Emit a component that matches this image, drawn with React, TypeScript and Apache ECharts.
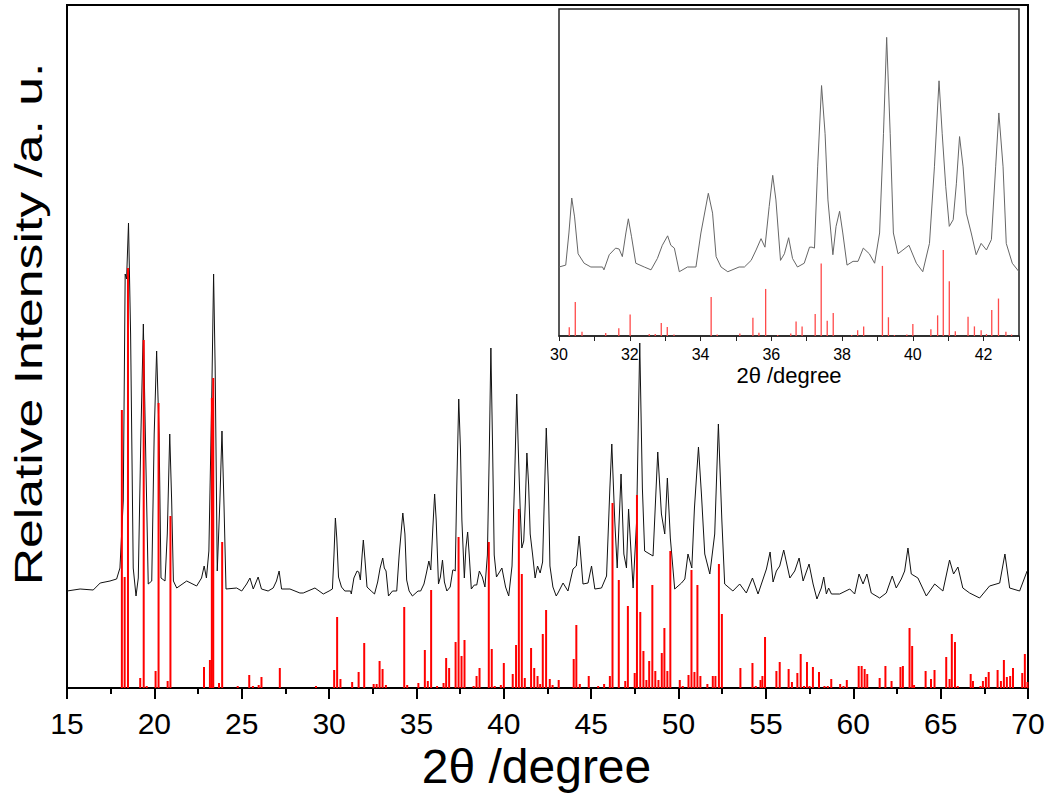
import React, { useEffect, useRef } from "react";
import * as echarts from "echarts";

// Measured XRD pattern: [2θ (degree), relative intensity]
const measuredPattern: [number, number][] = [
  [15.0, 97], [15.75, 99], [16.5, 98], [16.9, 105], [17.46, 107], [17.84, 109], [18.03, 120],
  [18.22, 187], [18.33, 414], [18.41, 409], [18.52, 465], [18.64, 354], [18.79, 120], [18.95, 92],
  [19.08, 110], [19.23, 254], [19.37, 364], [19.52, 220], [19.65, 104], [19.85, 107], [19.99, 254],
  [20.13, 337], [20.27, 254], [20.38, 110], [20.61, 107], [20.74, 154], [20.88, 254], [20.99, 187],
  [21.09, 107], [21.28, 100], [21.85, 107], [22.42, 102], [22.7, 110], [22.85, 122], [22.98, 110],
  [23.12, 137], [23.28, 287], [23.39, 414], [23.48, 320], [23.6, 117], [23.75, 187], [23.87, 257],
  [23.98, 187], [24.1, 99], [24.71, 100], [25.0, 97], [25.28, 104], [25.47, 110], [25.66, 99],
  [25.94, 111], [26.13, 99], [26.51, 97], [26.8, 100], [26.99, 107], [27.14, 117], [27.28, 99],
  [27.76, 99], [28.33, 95], [28.52, 95], [29.19, 100], [29.67, 94],
  [30.0, 97], [30.19, 99], [30.28, 133], [30.36, 170], [30.44, 150], [30.54, 111], [30.71, 101],
  [30.9, 97], [31.23, 97], [31.27, 94], [31.42, 110], [31.6, 117], [31.7, 116], [31.79, 108],
  [31.89, 133], [31.96, 148], [32.05, 129], [32.17, 101], [32.41, 97], [32.6, 94], [32.78, 106],
  [32.92, 120], [33.07, 130], [33.16, 120], [33.26, 117], [33.4, 92], [33.63, 97], [33.87, 97],
  [34.01, 133], [34.22, 175], [34.34, 154], [34.44, 108], [34.58, 97], [34.77, 92], [35.09, 97],
  [35.24, 97], [35.43, 104], [35.57, 115], [35.71, 127], [35.82, 118], [35.94, 161], [36.04, 194],
  [36.13, 168], [36.26, 104], [36.37, 111], [36.49, 128], [36.6, 106], [36.74, 97], [36.93, 101],
  [37.08, 118], [37.15, 118], [37.22, 117], [37.31, 203], [37.42, 289], [37.52, 238], [37.6, 168],
  [37.74, 110], [37.83, 140], [37.93, 156], [38.02, 133], [38.14, 99], [38.31, 103], [38.45, 103],
  [38.6, 117], [38.77, 111], [38.92, 101], [39.06, 133], [39.17, 238], [39.26, 340], [39.36, 238],
  [39.45, 133], [39.58, 111], [39.72, 115], [39.89, 120], [40.1, 101], [40.28, 92], [40.47, 122],
  [40.61, 203], [40.74, 294], [40.83, 238], [40.93, 182], [41.03, 140], [41.14, 147], [41.23, 185],
  [41.32, 235], [41.42, 203], [41.51, 154], [41.65, 133], [41.79, 110], [41.93, 122], [42.08, 115],
  [42.22, 126], [42.34, 203], [42.43, 260], [42.55, 203], [42.64, 122], [42.81, 101], [43.0, 92],
  [43.1, 95], [43.39, 105], [43.67, 97], [43.96, 119], [44.15, 122], [44.31, 152], [44.53, 104],
  [44.82, 105], [45.02, 122], [45.21, 99], [45.59, 100], [45.88, 112], [46.07, 200], [46.18, 244],
  [46.35, 167], [46.49, 120], [46.71, 214], [46.87, 134], [47.02, 120], [47.14, 179], [47.31, 127],
  [47.4, 100], [47.6, 167], [47.78, 345], [47.93, 200], [48.06, 137], [48.54, 132], [48.81, 236],
  [49.02, 174], [49.21, 154], [49.36, 210], [49.53, 150], [49.78, 99], [50.17, 105], [50.36, 109],
  [50.54, 134], [50.76, 120], [50.91, 180], [51.14, 241], [51.31, 194], [51.5, 134], [51.79, 114],
  [52.07, 154], [52.28, 264], [52.48, 167], [52.64, 104], [53.11, 97], [53.5, 104], [53.88, 95],
  [54.23, 110], [54.55, 94], [55.03, 119], [55.24, 136], [55.41, 106], [55.6, 117], [55.79, 122],
  [56.02, 138], [56.37, 110], [56.65, 117], [56.9, 130], [57.13, 107], [57.47, 124], [57.7, 104],
  [57.92, 89], [58.17, 100], [58.31, 111], [58.46, 94], [58.59, 100], [58.75, 94], [59.22, 94],
  [59.8, 99], [60.08, 94], [60.33, 114], [60.56, 104], [60.78, 114], [61.03, 95], [61.51, 90],
  [61.89, 95], [62.23, 112], [62.46, 100], [62.75, 109], [62.94, 117], [63.13, 140], [63.32, 114],
  [63.7, 110], [64.18, 92], [64.66, 104], [65.13, 97], [65.51, 128], [65.74, 114], [65.99, 121],
  [66.27, 100], [66.66, 95], [67.23, 90], [67.8, 102], [68.38, 105], [68.68, 134], [68.95, 100],
  [69.52, 97], [69.95, 117],
];

// Reference diffraction lines: [2θ (degree), relative intensity]
const referenceSticks: [number, number][] = [
  [18.14, 278], [18.3, 111], [18.49, 420], [19.19, 10], [19.39, 348], [19.56, 2], [20.07, 17],
  [20.24, 285], [20.76, 7], [20.92, 172], [22.84, 21], [23.18, 28], [23.29, 290], [23.37, 310],
  [23.7, 5], [23.88, 146], [24.77, 2], [25.43, 13], [25.64, 2], [25.97, 3], [26.13, 11], [27.18, 20],
  [29.25, 2], [30.29, 18], [30.46, 71], [30.65, 9], [31.32, 6], [31.69, 16], [32.01, 45], [32.55, 4],
  [32.72, 4], [32.89, 27], [33.06, 19], [33.25, 3], [34.3, 81], [34.47, 3], [35.11, 5], [35.48, 38],
  [35.65, 7], [35.84, 98], [36.18, 2], [36.55, 5], [36.7, 30], [36.87, 20], [37.24, 46], [37.41, 151],
  [37.58, 32], [37.75, 48], [38.27, 2], [38.44, 12], [38.61, 20], [39.14, 146], [39.31, 39], [39.48, 2],
  [39.83, 3], [40.0, 25], [40.51, 14], [40.7, 43], [40.86, 179], [41.03, 114], [41.2, 10], [41.56, 40],
  [41.74, 20], [41.93, 12], [42.08, 4], [42.23, 54], [42.42, 78], [42.63, 9], [42.79, 3], [43.14, 8],
  [44.0, 29], [44.15, 63], [44.35, 4], [44.86, 12], [45.4, 2], [45.74, 4], [46.07, 12], [46.22, 185],
  [46.58, 108], [46.95, 7], [47.1, 82], [47.49, 15], [47.62, 193], [47.81, 76], [47.99, 37], [48.16, 8],
  [48.32, 27], [48.5, 103], [48.67, 17], [48.85, 8], [49.04, 35], [49.19, 60], [49.36, 17], [49.53, 137],
  [50.07, 8], [50.24, 2], [50.57, 13], [50.74, 118], [50.91, 16], [51.08, 103], [51.25, 12], [51.65, 4],
  [51.96, 12], [52.11, 12], [52.31, 124], [52.48, 74], [53.54, 20], [54.23, 25], [54.42, 2], [54.69, 8],
  [54.8, 12], [54.95, 51], [55.6, 17], [55.79, 26], [56.3, 19], [56.49, 6], [56.8, 15], [56.99, 34],
  [57.18, 2], [57.35, 26], [57.5, 2], [57.69, 21], [58.04, 16], [58.35, 2], [58.54, 2], [58.74, 9],
  [59.25, 4], [59.44, 2], [59.63, 8], [60.31, 22], [60.48, 22], [60.65, 19], [60.8, 14], [61.51, 10],
  [61.84, 22], [62.19, 7], [62.7, 21], [62.84, 22], [63.22, 60], [63.37, 42], [63.48, 3], [64.14, 17],
  [64.45, 9], [64.65, 18], [65.32, 31], [65.51, 9], [65.64, 54], [65.82, 46], [65.98, 2], [66.72, 14],
  [66.85, 7], [67.28, 2], [67.42, 7], [67.59, 11], [67.75, 16], [68.26, 18], [68.45, 7], [68.62, 28],
  [68.79, 11], [68.98, 12], [69.14, 20], [69.67, 15], [69.82, 34], [69.97, 6],
];

const mainRange: [number, number] = [15, 70];
const insetRange: [number, number] = [30, 43];
const xTitle = "2θ /degree";
const yTitle = "Relative Intensity /a. u.";

const FONT = "'Liberation Sans', Arial, sans-serif";

export default function App() {
  const ref = useRef<HTMLDivElement>(null);

  useEffect(() => {
    if (!ref.current) return;
    const chart = echarts.init(ref.current, null, { renderer: "svg" });
    const insetLine = measuredPattern.filter((p) => p[0] >= insetRange[0] && p[0] <= insetRange[1]);
    const insetSticks = referenceSticks.filter((p) => p[0] >= insetRange[0] && p[0] <= insetRange[1]);

    chart.setOption({
      animation: false,
      backgroundColor: "#ffffff",
      grid: [
        { left: 67, right: 22, top: 5, bottom: 114, show: true, borderColor: "#000", borderWidth: 2 },
        { left: 559, right: 31, top: 9, bottom: 466, show: true, borderColor: "#222", borderWidth: 1.5 },
      ],
      xAxis: [
        {
          type: "value",
          gridIndex: 0,
          min: mainRange[0],
          max: mainRange[1],
          interval: 5,
          name: xTitle,
          nameLocation: "middle",
          nameGap: 54,
          nameTextStyle: { fontSize: 48, fontFamily: FONT, color: "#000", padding: [0, 22, 0, 0] },
          axisLine: { onZero: false, lineStyle: { color: "#000", width: 2 } },
          axisTick: { length: 11, lineStyle: { color: "#000", width: 2 } },
          minorTick: { show: true, splitNumber: 2, length: 6, lineStyle: { color: "#000", width: 2 } },
          axisLabel: { fontSize: 30, fontFamily: FONT, color: "#000", margin: 20 },
          splitLine: { show: false },
        },
        {
          type: "value",
          gridIndex: 1,
          min: insetRange[0],
          max: insetRange[1],
          interval: 1,
          name: xTitle,
          nameLocation: "middle",
          nameGap: 28,
          nameTextStyle: { fontSize: 22, fontFamily: FONT, color: "#000" },
          axisLine: { onZero: false, lineStyle: { color: "#222", width: 1.5 } },
          axisTick: { length: 5, lineStyle: { color: "#222", width: 1 } },
          axisLabel: {
            fontSize: 16,
            fontFamily: FONT,
            color: "#000",
            margin: 10,
            formatter: (v: number) => (v % 2 === 0 && v < insetRange[1] ? String(v) : ""),
          },
          splitLine: { show: false },
        },
      ],
      yAxis: [
        {
          type: "value",
          gridIndex: 0,
          min: 0,
          max: 683,
          axisLine: { show: true, onZero: false, lineStyle: { color: "#000", width: 2 } },
          axisTick: { show: false },
          axisLabel: { show: false },
          splitLine: { show: false },
        },
        { type: "value", gridIndex: 1, min: 24, max: 370, show: false, splitLine: { show: false } },
        { type: "value", gridIndex: 1, min: 0, max: 681, show: false, splitLine: { show: false } },
      ],
      graphic: [
        {
          type: "text",
          x: 29,
          y: 324,
          rotation: Math.PI / 2,
          scaleX: 1.36,
          style: {
            text: yTitle,
            fontSize: 38,
            fontFamily: FONT,
            fill: "#000",
            align: "center",
            verticalAlign: "middle",
          },
        },
      ],
      series: [
        {
          type: "line",
          xAxisIndex: 0,
          yAxisIndex: 0,
          data: measuredPattern,
          symbol: "none",
          lineStyle: { color: "#111", width: 1 },
          z: 2,
        },
        {
          type: "bar",
          xAxisIndex: 0,
          yAxisIndex: 0,
          data: referenceSticks,
          barWidth: 2,
          itemStyle: { color: "#ff0000" },
          z: 3,
        },
        {
          type: "line",
          xAxisIndex: 1,
          yAxisIndex: 1,
          data: insetLine,
          symbol: "none",
          lineStyle: { color: "#666", width: 1 },
          z: 2,
        },
        {
          type: "bar",
          xAxisIndex: 1,
          yAxisIndex: 2,
          data: insetSticks,
          barWidth: 1.3,
          itemStyle: { color: "#ff4a4a" },
          z: 3,
        },
      ],
    });

    return () => chart.dispose();
  }, []);

  return (
    <div
      ref={ref}
      style={{ position: "absolute", left: 0, top: 0, width: 1050, height: 802, background: "#fff" }}
    />
  );
}
